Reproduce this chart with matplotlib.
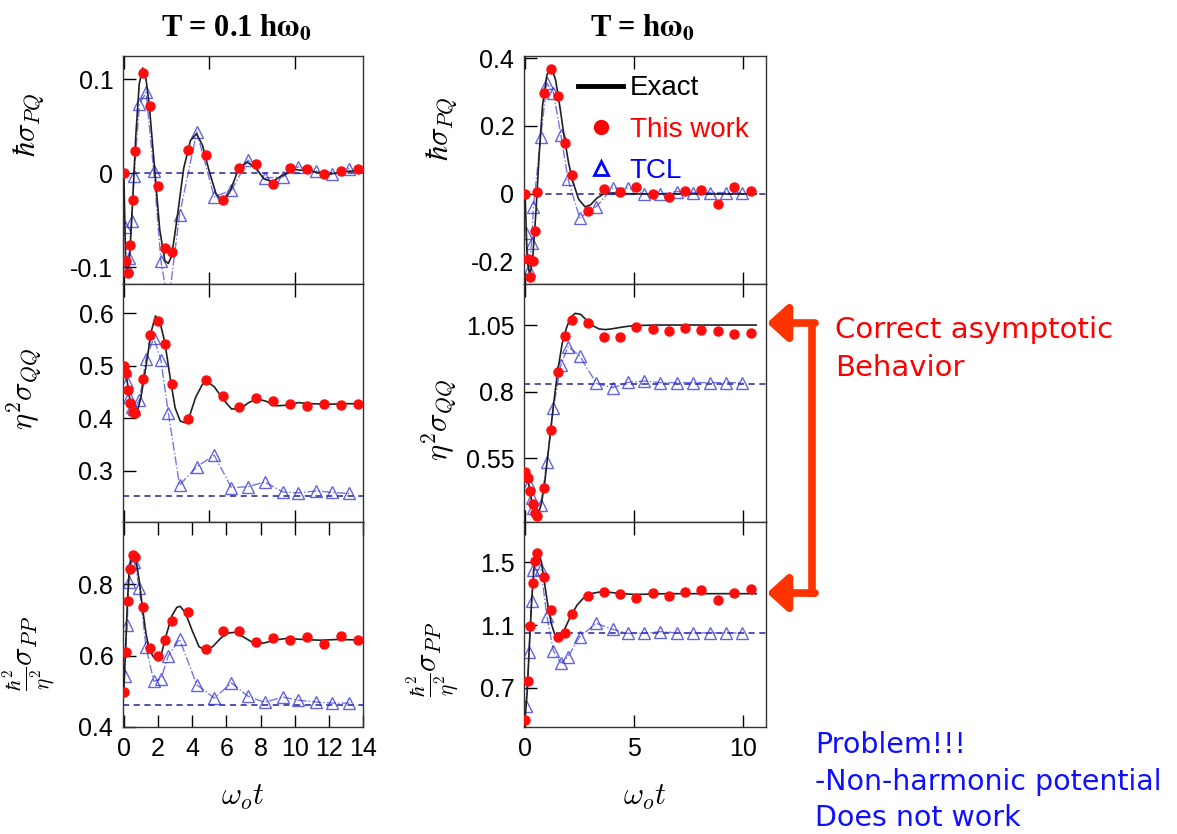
import numpy as np
import matplotlib.pyplot as plt
from matplotlib.lines import Line2D
from matplotlib.patches import FancyArrowPatch

plt.rcParams['font.family'] = ['Liberation Sans', 'DejaVu Sans']
plt.rcParams['mathtext.fontset'] = 'cm'

# ---------------- T = 0.1 h w0 (left column) ----------------
cold_t_exact_pq = [0, 0.1, 0.2, 0.35, 0.5, 0.7, 0.9, 1.1, 1.3, 1.5, 1.8, 2.1, 2.4, 2.6, 2.8, 3.1,
                   3.5, 3.9, 4.25, 4.6, 5.0, 5.4, 5.8, 6.2, 6.7, 7.2, 7.7, 8.2, 8.7, 9.2, 10, 11, 12, 13, 14]
cold_exact_pq = [0, -0.09, -0.11, -0.085, -0.035, 0.04, 0.095, 0.112, 0.1, 0.07, 0.005, -0.06, -0.093,
                 -0.096, -0.088, -0.05, 0.005, 0.035, 0.042, 0.03, 0.002, -0.022, -0.03, -0.02, 0.004,
                 0.012, 0.006, -0.006, -0.009, -0.003, 0.004, 0.002, -0.001, 0.002, 0.003]

cold_t_exact_qq = [0, 0.2, 0.4, 0.6, 0.8, 1.0, 1.3, 1.6, 1.85, 2.1, 2.4, 2.7, 3.0, 3.3, 3.55, 3.8, 4.2,
                   4.6, 4.9, 5.3, 5.8, 6.3, 6.8, 7.3, 7.8, 8.3, 8.9, 9.5, 10.2, 11, 12, 13, 14]
cold_exact_qq = [0.50, 0.47, 0.425, 0.41, 0.415, 0.44, 0.50, 0.565, 0.595, 0.585, 0.545, 0.48, 0.42,
                 0.395, 0.392, 0.40, 0.44, 0.465, 0.47, 0.46, 0.437, 0.418, 0.418, 0.43, 0.437, 0.433,
                 0.424, 0.425, 0.43, 0.428, 0.427, 0.428, 0.428]

cold_t_exact_pp = [0, 0.1, 0.2, 0.3, 0.4, 0.55, 0.7, 0.9, 1.1, 1.3, 1.5, 1.75, 1.95, 2.2, 2.5, 2.8, 3.1,
                   3.3, 3.6, 4.0, 4.4, 4.8, 5.2, 5.7, 6.1, 6.5, 7.0, 7.6, 8.2, 8.8, 9.5, 10.5, 11.5,
                   12.5, 13.5, 14]
cold_exact_pp = [0.50, 0.62, 0.74, 0.83, 0.87, 0.885, 0.87, 0.81, 0.73, 0.66, 0.615, 0.595, 0.59,
                 0.605, 0.66, 0.71, 0.735, 0.738, 0.72, 0.67, 0.625, 0.614, 0.625, 0.65, 0.663, 0.665,
                 0.652, 0.635, 0.635, 0.643, 0.648, 0.645, 0.643, 0.645, 0.644, 0.644]

cold_t_work = [0, 0.1, 0.23, 0.37, 0.51, 0.66, 1.1, 1.51, 1.98, 2.4, 2.8, 3.78, 4.81, 5.78, 6.76,
               7.76, 8.76, 9.75, 10.74, 11.73, 12.72, 13.7]
cold_work_pq = [0, -0.093, -0.106, -0.076, -0.028, 0.024, 0.107, 0.072, -0.0135, -0.079, -0.084,
                0.025, 0.0195, -0.028, 0.006, 0.01, -0.011, 0.006, 0.005, -0.001, 0.002, 0.005]
cold_work_qq = [0.50, 0.486, 0.454, 0.429, 0.413, 0.411, 0.476, 0.559, 0.585, 0.542, 0.465, 0.398,
                0.473, 0.442, 0.422, 0.439, 0.433, 0.428, 0.423, 0.427, 0.425, 0.428]
cold_work_pp = [0.499, 0.611, 0.754, 0.842, 0.882, 0.876, 0.737, 0.621, 0.599, 0.644, 0.697, 0.722,
                0.618, 0.669, 0.669, 0.637, 0.649, 0.645, 0.652, 0.632, 0.655, 0.643]

cold_t_tcl = [0.04, 0.19, 0.3, 0.45, 0.6, 0.91, 1.3, 1.75, 2.17, 2.6, 3.26, 4.27, 5.29, 6.3, 7.27,
              8.24, 9.3, 10.2, 11.27, 12.2, 13.2]
cold_tcl_pq = [-0.057, -0.100, -0.090, -0.051, -0.003, 0.074, 0.086, 0.002, -0.093, -0.14, -0.044,
               0.044, -0.025, -0.018, 0.014, -0.005, -0.004, 0.007, 0.002, -0.001, 0.005]
cold_tcl_qq = [0.492, 0.47, 0.441, 0.422, 0.418, 0.435, 0.513, 0.553, 0.511, 0.411, 0.273, 0.308,
               0.330, 0.268, 0.270, 0.279, 0.26, 0.258, 0.262, 0.259, 0.257]
cold_tcl_pp = [0.542, 0.686, 0.807, 0.859, 0.863, 0.789, 0.623, 0.528, 0.534, 0.599, 0.646, 0.518,
               0.481, 0.523, 0.486, 0.469, 0.484, 0.475, 0.47, 0.467, 0.467]
cold_tcl_limit = [0.0, 0.252, 0.463]

# ---------------- T = h w0 (right column) ----------------
hot_t_exact_pq = [0, 0.1, 0.22, 0.35, 0.5, 0.65, 0.8, 1.0, 1.2, 1.4, 1.6, 1.8, 2.0, 2.2, 2.45, 2.75,
                  3.0, 3.3, 3.6, 4.0, 5, 6, 7, 8, 9, 10, 10.6]
hot_exact_pq = [0, -0.2, -0.24, -0.19, -0.05, 0.12, 0.26, 0.35, 0.375, 0.335, 0.255, 0.165, 0.09,
                0.035, -0.015, -0.038, -0.032, -0.012, 0.0, 0.003, 0.0, 0.0, 0.0, 0.0, 0.0, 0.0, 0.0]

hot_t_exact_qq = [0, 0.15, 0.3, 0.45, 0.6, 0.75, 0.9, 1.1, 1.3, 1.5, 1.7, 1.9, 2.1, 2.3, 2.55, 2.8,
                  3.1, 3.4, 3.7, 4.0, 4.5, 5, 6, 7, 8, 9, 10, 10.6]
hot_exact_qq = [0.50, 0.46, 0.39, 0.345, 0.34, 0.38, 0.46, 0.6, 0.75, 0.88, 0.98, 1.04, 1.08, 1.094,
                1.09, 1.07, 1.048, 1.035, 1.033, 1.036, 1.043, 1.048, 1.05, 1.05, 1.05, 1.05, 1.05, 1.05]

hot_t_exact_pp = [0, 0.1, 0.2, 0.3, 0.4, 0.5, 0.6, 0.75, 0.9, 1.05, 1.2, 1.35, 1.5, 1.7, 1.9, 2.1,
                  2.4, 2.7, 3.0, 3.4, 3.8, 4.3, 5.0, 5.7, 6.5, 7.5, 8.5, 9.5, 10.6]
hot_exact_pp = [0.5, 0.68, 0.98, 1.25, 1.45, 1.56, 1.575, 1.5, 1.36, 1.22, 1.11, 1.045, 1.02, 1.04,
                1.1, 1.16, 1.23, 1.275, 1.3, 1.31, 1.31, 1.302, 1.295, 1.297, 1.3, 1.3, 1.3, 1.3, 1.3]

hot_t_work = [0, 0.12, 0.23, 0.36, 0.45, 0.55, 0.85, 1.19, 1.52, 1.84, 2.15, 2.89, 3.63, 4.37, 5.11,
              5.88, 6.62, 7.35, 8.08, 8.84, 9.59, 10.35]
hot_work_pq = [0, -0.192, -0.243, -0.196, -0.109, 0.007, 0.296, 0.368, 0.288, 0.151, 0.056, -0.049,
               0.014, 0.007, 0.021, 0.0, -0.008, 0.01, 0.012, -0.029, 0.021, 0.01]
hot_work_qq = [0.50, 0.477, 0.428, 0.378, 0.344, 0.334, 0.44, 0.656, 0.873, 1.01, 1.069, 1.059,
               1.006, 1.006, 1.044, 1.034, 1.027, 1.04, 1.031, 1.029, 1.016, 1.019]
hot_work_pp = [0.494, 0.743, 1.096, 1.366, 1.508, 1.561, 1.408, 1.196, 1.022, 1.051, 1.168, 1.285,
               1.313, 1.296, 1.274, 1.302, 1.285, 1.309, 1.323, 1.26, 1.306, 1.33]

hot_t_tcl = [0.04, 0.18, 0.3, 0.38, 0.72, 1.0, 1.3, 1.64, 1.97, 2.5, 3.27, 4.01, 4.73, 5.47, 6.21,
             6.97, 7.7, 8.46, 9.21, 9.97]
hot_tcl_pq = [-0.114, -0.224, -0.145, -0.039, 0.169, 0.326, 0.298, 0.174, 0.043, -0.07, -0.037,
              0.017, 0.017, 0.0, 0.0, 0.007, 0.004, 0.004, 0.004, 0.004]
hot_tcl_qq = [0.491, 0.453, 0.40, 0.365, 0.375, 0.537, 0.74, 0.90, 0.969, 0.935, 0.831, 0.815, 0.835,
              0.84, 0.834, 0.834, 0.834, 0.834, 0.834, 0.834]
hot_tcl_pp = [0.584, 0.93, 1.253, 1.451, 1.455, 1.158, 0.934, 0.86, 0.898, 1.026, 1.111, 1.073,
              1.047, 1.047, 1.058, 1.05, 1.05, 1.05, 1.05, 1.05]
hot_tcl_limit = [0.0, 0.83, 1.048]

ylabels = [r'$\hbar\sigma_{PQ}$', r'$\eta^2\sigma_{QQ}$', r'$\frac{\hbar^2}{\eta^2}\sigma_{PP}$']
titles = ['T = 0.1 h$\\mathbf{\\omega_0}$', 'T = h$\\mathbf{\\omega_0}$']

W, H = 1177, 834
fig = plt.figure(figsize=(W / 100, H / 100), dpi=100)


def px_box(x0, x1, y0, y1):
    return [x0 / W, 1 - y1 / H, (x1 - x0) / W, (y1 - y0) / H]


rows_px = [(56, 284), (284, 522), (522, 727)]
cols_px = [(123, 363), (524, 766)]

ylims = [[(-0.1178, 0.1248), (0.2027, 0.656), (0.40, 0.974)],
         [(-0.265, 0.406), (0.311, 1.204), (0.450, 1.757)]]
yticks = [[[-0.1, 0, 0.1], [0.3, 0.4, 0.5, 0.6], [0.4, 0.6, 0.8]],
          [[-0.2, 0, 0.2, 0.4], [0.55, 0.8, 1.05], [0.7, 1.1, 1.5]]]
yticklabels = [[['-0.1', '0', '0.1'], ['0.3', '0.4', '0.5', '0.6'], ['0.4', '0.6', '0.8']],
               [['-0.2', '0', '0.2', '0.4'], ['0.55', '0.8', '1.05'], ['0.7', '1.1', '1.5']]]
ylabel_y = [[0.70, 0.56, 0.36], [0.68, 0.43, 0.33]]
ylabel_x = [[-0.32, -0.33, -0.27], [-0.27, -0.27, -0.255]]
ylabel_size = [22, 22, 22]

cols = [
    dict(exact=[(cold_t_exact_pq, cold_exact_pq), (cold_t_exact_qq, cold_exact_qq),
                (cold_t_exact_pp, cold_exact_pp)],
         t_work=cold_t_work, work=[cold_work_pq, cold_work_qq, cold_work_pp],
         t_tcl=cold_t_tcl, tcl=[cold_tcl_pq, cold_tcl_qq, cold_tcl_pp], limit=cold_tcl_limit,
         xlim=(-0.05, 14.0), xticks_bottom=list(range(0, 15, 2)), xticks_upper=[0, 5, 10]),
    dict(exact=[(hot_t_exact_pq, hot_exact_pq), (hot_t_exact_qq, hot_exact_qq),
                (hot_t_exact_pp, hot_exact_pp)],
         t_work=hot_t_work, work=[hot_work_pq, hot_work_qq, hot_work_pp],
         t_tcl=hot_t_tcl, tcl=[hot_tcl_pq, hot_tcl_qq, hot_tcl_pp], limit=hot_tcl_limit,
         xlim=(-0.05, 11.05), xticks_bottom=[0, 5, 10], xticks_upper=[0, 5, 10]),
]

axes = {}
for c, col in enumerate(cols):
    for r in range(3):
        ax = fig.add_axes(px_box(cols_px[c][0], cols_px[c][1], rows_px[r][0], rows_px[r][1]))
        axes[c, r] = ax
        te, ye = col['exact'][r]
        ax.axhline(col['limit'][r], color='#22229a', lw=1.1, ls=(0, (4, 3)), zorder=1)
        ax.plot(col['t_tcl'], col['tcl'][r], ls='-.', lw=1.0, color='#4848e0', alpha=0.75,
                marker='^', ms=8, mfc='none', mec='#3030d8', mew=1.0, zorder=2)
        ax.plot(te, ye, color='#202020', lw=1.2, zorder=3)
        ax.plot(col['t_work'], col['work'][r], ls='none', marker='o', ms=6.5, color='#ff0d0d',
                mec='#ff0d0d', zorder=4)
        ax.set_xlim(*col['xlim'])
        ax.set_ylim(*ylims[c][r])
        ax.set_yticks(yticks[c][r])
        ax.set_yticklabels(yticklabels[c][r])
        ax.set_xticks(col['xticks_bottom'] if r == 2 else col['xticks_upper'])
        ax.tick_params(direction='in', length=9, width=1.0, labelsize=18, pad=7,
                       top=True, bottom=True, left=True, right=False)
        if r < 2:
            ax.tick_params(labelbottom=False)
        for sp in ax.spines.values():
            sp.set_linewidth(1.0)
            sp.set_color('#333333')
        ax.set_ylabel(ylabels[r], fontsize=ylabel_size[r])
        ax.yaxis.set_label_coords(ylabel_x[c][r], ylabel_y[c][r])
    axb = axes[c, 2]
    axb.set_xlabel(r'$\omega_o t$', fontsize=22)
    axb.xaxis.set_label_coords(0.5, -0.27)

# column headings
for xp, title in zip((236, 642), titles):
    fig.text(xp / W, 1 - 28 / H, title, ha='center', va='center', fontsize=22,
             family='Liberation Serif', weight='bold', math_fontfamily='stix')

# legend inside the upper right panel
handles = [Line2D([], [], color='black', lw=3.5),
           Line2D([], [], ls='none', marker='o', ms=10, color='red'),
           Line2D([], [], ls='none', marker='^', ms=10, mfc='none', mec='blue', mew=2)]
axes[1, 0].legend(handles, ['Exact', 'This work', 'TCL'], loc='upper left',
                  bbox_to_anchor=(0.225, 0.915), frameon=False, fontsize=20,
                  handlelength=1.6, handletextpad=0.25, labelspacing=0.55, borderpad=0,
                  borderaxespad=0, labelcolor=['black', 'red', 'blue'])

# bracket pointing at the two asymptotes
red = '#ff3300'
fig.add_artist(Line2D([812 / W, 812 / W], [1 - 320 / H, 1 - 597 / H], color=red, lw=5.5,
                      transform=fig.transFigure, solid_capstyle='butt'))
for yp in (323, 593):
    fig.add_artist(FancyArrowPatch((815 / W, 1 - yp / H), (767 / W, 1 - yp / H),
                                   transform=fig.transFigure, color=red, lw=5.5,
                                   arrowstyle='-|>,head_length=0.55,head_width=0.5',
                                   mutation_scale=22, shrinkA=0, shrinkB=0))

fig.text(835 / W, 1 - 330 / H, 'Correct asymptotic', color='red', fontsize=21, va='center',
         family='DejaVu Sans')
fig.text(835 / W, 1 - 368 / H, 'Behavior', color='red', fontsize=21, va='center',
         family='DejaVu Sans')

for yp, line in zip((745, 782, 818), ['Problem!!!', '-Non-harmonic potential', 'Does not work']):
    fig.text(815 / W, 1 - yp / H, line, color='#1010ff', fontsize=20.5, va='center',
             family='DejaVu Sans')

fig.savefig('out.png', dpi=100)
